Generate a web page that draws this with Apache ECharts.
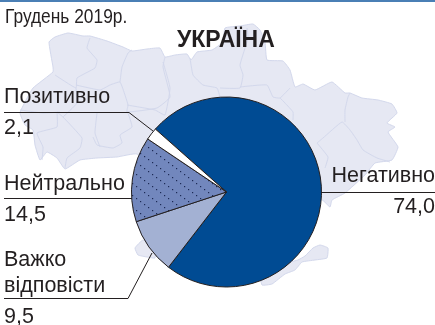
<!DOCTYPE html>
<html><head><meta charset="utf-8">
<script src="https://cdn.jsdelivr.net/npm/echarts@6/dist/echarts.min.js"></script>
<style>html,body{margin:0;padding:0;background:#fff}#c{width:435px;height:325px}</style>
</head><body><div id="c"></div>
<script>
const categories = ['Негативно', 'Важко\nвідповісти', 'Нейтрально', 'Позитивно'];
const values = [74.0, 9.5, 14.5, 2.1];
const titleText = 'УКРАЇНА';
const dateText = 'Грудень 2019р.';

const INK = '#231f20';
const MAP_FILL = '#e6e8f3', MAP_LINE = '#d3d8ec';

// Decorative backdrop: the map of Ukraine
const mapBody = [[49,42],[55,37],[68,33],[83,36],[90,36],[107,41],[123,47],[132,51],[147,49],[160,48],[165,57],[175,55],[187,54],[191,60],[197,52],[212,50],[223,42],[225,28],[240,26],[253,24],[260,30],[265,42],[267,60],[283,61],[290,70],[295,87],[303,84],[315,90],[332,82],[345,93],[350,93],[362,98],[378,100],[392,104],[397,113],[387,123],[395,127],[388,132],[398,147],[392,160],[375,163],[365,175],[345,193],[332,200],[330,207],[322,200],[200,200],[137,154],[117,157],[97,158],[80,160],[65,169],[57,158],[47,152],[40,160],[35,145],[33,130],[25,125],[20,113],[25,102],[33,88],[53,72],[53,67]];
const mapCrimea = [[260,270],[262,285],[272,284],[285,274],[295,270],[302,262],[315,260],[327,258],[328,248],[320,245],[313,248],[305,256],[298,260],[290,262]];
const mapOdesaTip = [[135,248],[143,240],[155,247],[155,258],[147,257],[138,255]];
const mapBorders = [
  [[90,38],[87,48],[97,60],[95,68],[77,78],[76,88],[55,75]],
  [[76,85],[100,90],[110,85],[120,82],[125,95],[128,105],[127,112],[157,108],[170,97],[163,67],[165,57]],
  [[120,82],[122,67],[128,53],[132,50]],
  [[163,62],[170,88],[165,115],[155,110],[127,105]],
  [[190,58],[193,75],[203,85],[217,88],[220,97]],
  [[220,88],[240,88],[243,75],[240,65],[248,38],[247,28]],
  [[240,87],[267,85],[273,97],[280,98],[290,88]],
  [[280,98],[285,103],[293,112],[293,120]],
  [[317,143],[323,138],[342,122],[350,130],[357,140],[363,150],[377,158],[390,162]],
  [[345,122],[345,110],[348,97],[350,93]],
  [[317,143],[328,157],[325,168]],
  [[65,168],[67,158],[80,148],[82,138],[63,117],[57,112]],
  [[93,137],[97,145],[113,148],[122,143],[120,135],[132,127],[128,113]],
  [[97,113],[95,133],[100,147]],
  [[20,110],[43,113],[60,112]],
  [[57,112],[57,127],[37,133],[43,147],[42,160]],
  [[76,88],[77,103],[63,117]]
];

const dots = document.createElement('canvas');
dots.width = 16; dots.height = 12;
const dc = dots.getContext('2d');
dc.fillStyle = '#7287bd'; dc.fillRect(0, 0, 16, 12);
dc.fillStyle = '#1d2a55';
[[0,0],[4,3],[8,6],[12,9]].forEach(p => dc.fillRect(p[0], p[1], 1.2, 1.2));

const sliceColors = ['#004b93', '#a3b1d3', {image: dots, repeat: 'repeat'}, '#ffffff'];
const fmt = v => v.toFixed(1).replace('.', ',');

// Label placement per slice
const labelPlace = [
  {x: 435, y: 163, align: 'right', line: [[321,192.5],[435,192.5]]},
  {x: 4, y: 247, align: 'left', line: [[152,253],[128,298.5],[4,298.5]]},
  {x: 4, y: 171, align: 'left', line: [[133,198.5],[4,198.5]]},
  {x: 4, y: 84, align: 'left', line: [[153,131],[129,112.5],[4,112.5]]}
];

const polyStyle = {fill:MAP_FILL, stroke:MAP_LINE, lineWidth:1};
const graphicEls = [
  {type:'rect', shape:{x:0,y:0,width:435,height:2}, style:{fill:'#4a7fb5'}},
  {type:'polygon', shape:{points:mapBody, smooth:0.12}, style:polyStyle},
  {type:'polygon', shape:{points:mapCrimea, smooth:0.12}, style:polyStyle},
  {type:'polygon', shape:{points:mapOdesaTip, smooth:0.12}, style:polyStyle}
].concat(mapBorders.map(b => ({type:'polyline', shape:{points:b, smooth:0.12}, style:{fill:'none', stroke:MAP_LINE, lineWidth:1}})))
 .concat([{type:'text', x:5, y:8, scaleX:0.89, style:{text:dateText, fontFamily:'"Liberation Sans",sans-serif', fontSize:19.5, fill:INK}}]);

const chart = echarts.init(document.getElementById('c'), null, {renderer:'canvas'});
chart.setOption({
  animation: false,
  backgroundColor: '#fff',
  title: {text: titleText, left: 177, top: 29, padding: 0, textStyle:{fontFamily:'"Liberation Sans",sans-serif', fontSize:23, fontWeight:'bold', color:INK}},
  graphic: {elements: graphicEls},
  series: [{
    type: 'pie',
    center: [226.5, 192],
    radius: [0, 95],
    startAngle: 138.5,
    clockwise: true,
    avoidLabelOverlap: false,
    silent: true,
    data: categories.map((n, i) => ({
      name: n, value: values[i],
      itemStyle: {color: sliceColors[i], borderColor: INK, borderWidth: 1}
    })),
    label: {
      show: true,
      formatter: p => p.name.split('\n').map(s => '{n|' + s + '}').join('\n') + '\n{v|' + fmt(p.value) + '}',
      rich: {
        n: {fontFamily:'"Liberation Sans",sans-serif', fontSize:21.5, color:INK, lineHeight:26},
        v: {fontFamily:'"Liberation Sans",sans-serif', fontSize:21.5, color:INK, lineHeight:36}
      }
    },
    labelLine: {show: true, lineStyle: {color: INK, width: 1}},
    labelLayout: p => {
      const q = labelPlace[p.dataIndex];
      return {x: q.x, y: q.y, align: q.align, verticalAlign: 'top', labelLinePoints: q.line};
    }
  }]
});
</script></body></html>
